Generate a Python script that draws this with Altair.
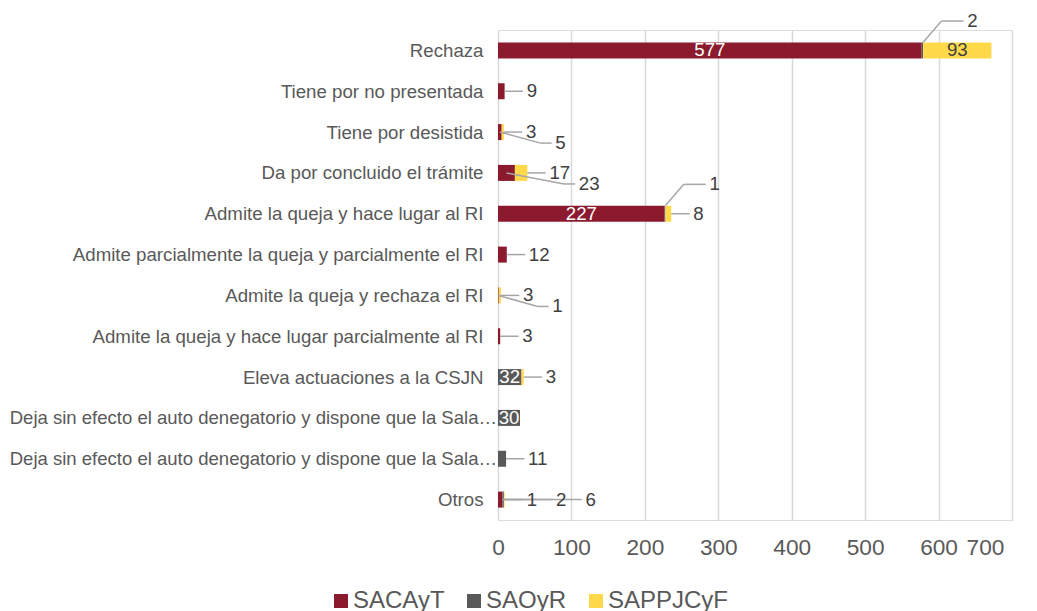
import json
import altair as alt
import pandas as pd

categories = [
    "Rechaza",
    "Tiene por no presentada",
    "Tiene por desistida",
    "Da por concluido el trámite",
    "Admite la queja y hace lugar al RI",
    "Admite parcialmente la queja y parcialmente el RI",
    "Admite la queja y rechaza el RI",
    "Admite la queja y hace lugar parcialmente al RI",
    "Eleva actuaciones a la CSJN",
    "Deja sin efecto el auto denegatorio y dispone que la Sala…",
    "Deja sin efecto el auto denegatorio y dispone que la Sala…",
    "Otros",
]
series_names = ["SACAyT", "SAOyR", "SAPPJCyF"]
sacayt = [577, 9, 5, 23, 227, 12, 1, 3, 0, 0, 0, 6]
saoyr = [2, 0, 0, 0, 1, 0, 0, 0, 32, 30, 11, 2]
sappjcyf = [93, 0, 3, 17, 8, 0, 3, 0, 3, 0, 0, 1]
x_ticks = [0, 100, 200, 300, 400, 500, 600, 700]

colors = ["#8B1A2F", "#595959", "#FFD94A"]
FONT = "Liberation Sans"
long_rows = [i for i, c in enumerate(categories) if c.endswith("…")]

# ---- segments (stacked) ----
segs = []
for i in range(len(categories)):
    start = 0
    for s, (name, vals) in enumerate(zip(series_names, [sacayt, saoyr, sappjcyf])):
        v = vals[i]
        segs.append(dict(idx=i, series=name, sorder=s, value=v,
                         start=start, end=start + v))
        start += v
seg = pd.DataFrame(segs)
bars = seg[seg.value > 0].copy()

# ---- label layout derived from values ----
inside, outside, rules = [], [], []
for i in range(len(categories)):
    row = bars[bars.idx == i].sort_values("sorder")
    total = row.end.max()
    prev_inside = False
    pending = []
    for _, r in row.iterrows():
        if r.value >= 30:
            inside.append(dict(idx=i, series=r.series, x=(r.start + r.end) / 2,
                               label=str(int(r.value))))
            prev_inside = True
        elif r.value <= 2 and prev_inside:
            lx = r.end + 60
            ly = i - 0.72
            outside.append(dict(x=lx, y=ly, label=str(int(r.value))))
            rules.append(dict(x=r.end, x2=r.end + 25, y=i - 0.2, y2=ly))
            rules.append(dict(x=r.end + 25, x2=lx - 5, y=ly, y2=ly))
            prev_inside = False
        else:
            pending.append(r)
            prev_inside = False
    pending = sorted(pending, key=lambda r: -r.sorder)
    stagger = len(pending) == 2
    for k, r in enumerate(pending):
        lx = total + 30 + 40 * k
        ly = i + (0.27 if (stagger and k == 1) else 0)
        outside.append(dict(x=lx, y=ly, label=str(int(r.value))))
        if ly == i:
            rules.append(dict(x=r.end, x2=lx - 5, y=i, y2=i))
        else:
            mid = (r.start + r.end) / 2
            rules.append(dict(x=mid, x2=lx - 20, y=i, y2=ly))
            rules.append(dict(x=lx - 20, x2=lx - 5, y=ly, y2=ly))

inside = pd.DataFrame(inside)
outside = pd.DataFrame(outside)
rules = pd.DataFrame(rules)
longlab = pd.DataFrame([dict(idx=i, label=categories[i]) for i in long_rows])

ydom = [-0.5, len(categories) - 0.5]
names_js = json.dumps(categories, ensure_ascii=False)
label_expr = (f"indexof({json.dumps(long_rows)}, datum.value) >= 0 ? '' : "
              f"{names_js}[datum.value]")

yscale = alt.Scale(domain=ydom, reverse=True, nice=False, zero=False, padding=0)
xscale = alt.Scale(domain=[0, 700], nice=False, padding=0)

bar = alt.Chart(bars).mark_bar(size=16).encode(
    x=alt.X("start:Q", scale=xscale, title=None,
            axis=alt.Axis(values=x_ticks, grid=True, gridColor="#D9D9D9",
                          gridWidth=1.5, domain=False, ticks=False,
                          labelFontSize=22.67, labelColor="#595959",
                          labelFont=FONT, labelPadding=16, labelFlush=False,
                          labelOffset={"condition": {"test": "datum.value === 700",
                                                     "value": -27},
                                       "value": 0})),
    x2="end:Q",
    y=alt.Y("idx:Q", scale=yscale, title=None,
            axis=alt.Axis(values=list(range(len(categories))), grid=False,
                          domain=False, ticks=False, labelExpr=label_expr,
                          labelFontSize=18.67, labelColor="#595959",
                          labelFont=FONT, labelPadding=15, labelLimit=800)),
    color=alt.Color("series:N",
                    scale=alt.Scale(domain=series_names, range=colors),
                    title=None,
                    legend=alt.Legend(orient="none", direction="horizontal",
                                      legendX=-169, legendY=559,
                                      symbolType="square", symbolSize=196,
                                      symbolStrokeWidth=0, labelFontSize=24,
                                      labelColor="#595959", labelFont=FONT,
                                      labelOffset=0, columnPadding=17,
                                      padding=0)),
    order=alt.Order("sorder:Q"),
)

rule = alt.Chart(rules).mark_rule(color="#A6A6A6", strokeWidth=1.5).encode(
    x=alt.X("x:Q", scale=xscale), x2="x2:Q",
    y=alt.Y("y:Q", scale=yscale), y2="y2:Q",
)

txt_in = alt.Chart(inside).mark_text(fontSize=18.67, font=FONT,
                                     align="center", baseline="middle").encode(
    x=alt.X("x:Q", scale=xscale),
    y=alt.Y("idx:Q", scale=yscale),
    text="label:N",
    color=alt.condition("datum.series === 'SAPPJCyF'",
                        alt.value("#404040"), alt.value("#FFFFFF")),
)

txt_out = alt.Chart(outside).mark_text(fontSize=18.67, font=FONT,
                                       align="left", baseline="middle",
                                       color="#404040").encode(
    x=alt.X("x:Q", scale=xscale),
    y=alt.Y("y:Q", scale=yscale),
    text="label:N",
)

txt_long = alt.Chart(longlab).mark_text(fontSize=18.55, font=FONT,
                                        align="right", baseline="middle",
                                        color="#595959", dx=-1).encode(
    x=alt.datum(0, scale=xscale),
    y=alt.Y("idx:Q", scale=yscale),
    text="label:N",
)

chart = alt.layer(bar, rule, txt_in, txt_out, txt_long).properties(
    width=514, height=490,
    autosize=alt.AutoSizeParams(type="none"),
    padding={"left": 490, "top": 22, "right": 17, "bottom": 120},
).configure_view(stroke=None).configure(font=FONT)

chart.save("out.html", embed_options={"renderer": "svg", "actions": False})
